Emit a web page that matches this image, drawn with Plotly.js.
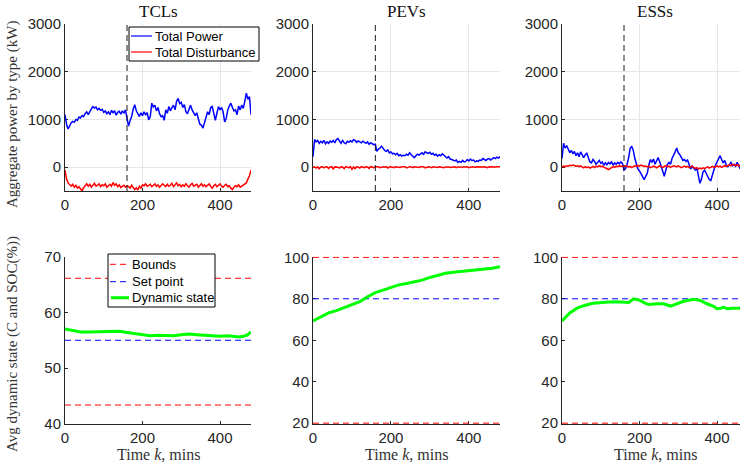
<!DOCTYPE html>
<html>
<head>
<meta charset="utf-8">
<script src="https://cdn.plot.ly/plotly-3.0.1.min.js"></script>
<style>
html,body{margin:0;padding:0;background:#fff;overflow:hidden;width:740px;height:466px;}
#chart{width:770px;height:466px;}
</style>
</head>
<body>
<div id="chart"></div>
<script>
// ---------------- DATA ----------------
const panelTitles = ["TCLs", "PEVs", "ESSs"];
const switchTime = 160;
// time samples for the top row (minutes)
const timeTop = Array.from({length: 121}, (_, i) => i * 4);

const tclPower = [
  1100, 900, 800, 880, 930, 960, 940, 1000, 980, 1050,
  1030, 1080, 1060, 1120, 1160, 1100, 1180, 1220, 1270, 1240,
  1260, 1200, 1230, 1190, 1210, 1150, 1180, 1120, 1160, 1100,
  1190, 1140, 1180, 1090, 1150, 1170, 1110, 1180, 1130, 1200,
  1020, 860, 980, 1060, 1220, 1310, 1180, 1100, 1060, 1140,
  1080, 1160, 1100, 1140, 990, 1060, 1340, 1260, 1300, 1180,
  1250, 1120, 1060, 1080, 980, 1200, 1130, 1270, 1180, 1250,
  1300, 1200, 1380, 1440, 1330, 1360, 1250, 1310, 1160, 1120,
  1200, 1300, 1200, 1140, 1080, 1140, 1010, 900, 880, 820,
  930, 1080, 1160, 1100, 1250, 1270, 1120, 980, 1130, 1270,
  1200, 1250, 1160, 950, 1020, 1200, 1280, 1340, 1250, 1180,
  1200, 1100, 1280, 1200, 1300, 1230, 1380, 1550, 1420, 1480,
  1100];
const tclDist = [
  -60, -250, -330, -370, -400, -360, -420, -380, -440, -410,
  -470, -500, -430, -390, -350, -400, -360, -420, -370, -340,
  -400, -380, -350, -410, -370, -390, -350, -420, -380, -360,
  -400, -320, -380, -350, -410, -370, -430, -400, -380, -420,
  -390, -410, -440, -380, -420, -470, -430, -480, -400, -440,
  -370, -390, -350, -400, -380, -360, -410, -380, -350, -400,
  -370, -420, -390, -350, -380, -410, -360, -400, -380, -340,
  -410, -370, -330, -390, -360, -410, -370, -400, -350, -390,
  -420, -370, -340, -400, -380, -360, -420, -390, -350, -400,
  -370, -410, -380, -350, -400, -440, -390, -360, -410, -380,
  -350, -400, -420, -380, -360, -410, -390, -440, -470, -420,
  -390, -410, -370, -420, -400, -380, -360, -330, -250, -180,
  -60];
const pevPower = [
  220, 580, 530, 560, 500, 540, 510, 560, 490, 530,
  500, 545, 520, 560, 510, 580, 600, 540, 500, 560,
  510, 490, 540, 520, 555, 530, 575, 560, 520, 550,
  530, 510, 545, 520, 500, 530, 480, 510, 490, 470,
  480, 330, 380, 400, 440, 390, 350, 330, 360, 300,
  320, 280, 290, 260, 290, 240, 260, 230, 250, 240,
  270, 250, 300, 260, 220, 200, 240, 270, 250, 280,
  300, 270, 320, 300, 290, 310, 270, 290, 250, 270,
  230, 260, 240, 280, 250, 210, 190, 220, 170, 160,
  150, 130, 150, 100, 120, 100, 140, 110, 120, 160,
  130, 170, 140, 150, 110, 130, 120, 150, 140, 180,
  160, 140, 170, 180, 150, 170, 200, 180, 210, 190,
  220];
const pevDist = [
  0, 5, -20, 8, -35, 5, 10, -15, 5, 8,
  -25, 5, 10, -40, 5, 8, 0, -20, 10, 5,
  -30, 8, 5, -15, 10, -45, 5, -30, 8, 5,
  -20, 10, 5, -10, 8, 5, -25, 10, 5, -15,
  8, 5, 10, -10, 5, 8, 0, 10, -20, 5,
  8, 5, -10, 10, 5, 8, -5, 10, 5, 8,
  -15, 5, 10, 5, -10, 8, 5, 10, -5, 8,
  5, 10, -15, 5, 8, 5, -10, 10, 5, 8,
  -5, 10, 5, 8, -10, 5, 10, 5, -5, 8,
  5, 10, -10, 5, 8, 5, -5, 10, 5, 8,
  -10, 5, 10, 5, -5, 8, 5, 10, -5, 5,
  8, 5, -10, 10, 5, 8, -5, 5, 10, 5,
  8];
const essPower = [
  180, 500, 400, 450, 380, 300, 350, 280, 330, 240,
  300, 220, 320, 250, 200, 260, 290, 200, 110, 90,
  160, 120, 60, 100, 140, 80, 110, 40, 90, 50,
  100, 70, 110, 40, 90, 60, 100, 70, 110, 80,
  -60, -30, 60, 200, 400, 430, 350, 180, 60, -40,
  -80, -130, -200, -260, -180, -130, 40, 160, 100, 170,
  60, 120, 200, 120, 10, -120, -190, -60, 60, 100,
  60, 180, 240, 320, 400, 300, 260, 200, 140, 160,
  120, 150, 60, -40, 20, -30, -60, -20, -150, -340,
  -250, -100, -60, -120, -200, -260, -280, -150, -60, 40,
  100, 180, 240, 160, 90, 140, 40, 10, 60, 100,
  30, 60, 20, 100, 40, -40, 60, 120, 30, 80,
  -20];
const essDist = [
  0, 20, 10, 30, 20, 40, 30, 45, 35, 20,
  30, 10, 25, 0, -15, 10, -10, 5, -20, -5,
  15, -10, 20, 5, 30, 10, 20, 0, -20, -35,
  -50, -30, -10, 10, -5, 20, 10, 30, 15, 25,
  10, 30, 20, 0, 15, -10, 10, 30, 15, 35,
  20, 45, 30, 15, 25, 5, 20, -10, 0, 20,
  10, -15, 5, 25, 10, -5, 15, 30, 10, 20,
  -5, 15, 30, 20, 5, 25, 10, -10, 5, 20,
  0, 15, -10, 5, 20, -5, -25, -10, -40, -20,
  -35, -15, -30, -10, 5, -20, 0, 15, -5, 10,
  25, 5, 20, -5, 10, 30, 15, 35, 50, 30,
  60, 45, 30, 50, 25, 40, 20, 35, 10, 25,
  15];

// bottom row: average dynamic state (%)
const tclStateTime = [0,10,20,40,60,80,100,120,140,160,180,200,220,240,260,280,300,320,340,360,380,400,420,440,450,460,470,480];
const tclState = [57.0,56.9,56.7,56.5,56.5,56.5,56.6,56.5,56.6,56.4,56.2,56.0,55.8,55.9,55.9,55.8,56.0,56.1,56.0,55.9,55.8,55.7,55.8,55.7,55.6,55.7,55.9,56.5];
const pevStateTime = [0,20,40,60,80,100,110,120,140,160,180,200,220,240,260,280,300,320,340,360,380,400,420,440,460,480];
const pevState = [69.3,71.2,73.2,74.3,75.8,77.3,78.0,78.6,81.0,83.0,84.2,85.4,86.7,87.4,88.1,89.0,90.3,91.4,92.3,92.8,93.2,93.4,93.8,94.1,94.7,95.5];
const essStateTime = [0,10,20,40,60,80,100,120,140,160,172,185,200,215,225,245,262,280,297,314,340,357,374,390,400,410,417,426,440,460,480];
const essState = [69.3,71.5,73.2,75.6,76.9,77.8,78.2,78.4,78.6,78.5,78.2,80.0,79.3,77.8,77.3,77.6,77.6,76.5,77.6,78.8,79.8,79.2,77.6,76.5,75.2,75.4,76.0,75.2,75.4,75.3,75.5];

const tclBounds = [43.4, 66.1];
const pevBounds = [20, 100];
const essBounds = [20, 100];
const tclSetPoint = 55;
const pevSetPoint = 80;
const essSetPoint = 80;
const timeSpan = [0, 480];

const powerTicks = [0, 1000, 2000, 3000];
const tclStateTicks = [40, 50, 60, 70];
const socTicks = [20, 40, 60, 80, 100];
const timeTicks = [0, 200, 400];

// ---------------- LAYOUT HELPERS ----------------
const W = 770, H = 466;
const fx = p => p / W;
const fy = p => 1 - p / H;
const colPx = [[65, 251], [313, 500], [562, 748]];
const topPx = [24, 191], botPx = [256.5, 424];

const axisColor = '#262626';
const tickFont = {family: 'Liberation Sans, Arial, sans-serif', size: 15, color: axisColor};
const serif = 'Liberation Serif, Times New Roman, serif';
const dashPat = '6px,4px';

const traces = [];
const layout = {
  width: W, height: H,
  margin: {l: 0, r: 0, t: 0, b: 0},
  paper_bgcolor: '#fff', plot_bgcolor: '#fff',
  showlegend: false,
  shapes: [], annotations: []
};

function axisBase(domain, anchor, grid) {
  return {
    domain: domain, anchor: anchor,
    showline: true, linecolor: axisColor, linewidth: 1,
    ticks: 'inside', ticklen: 3, tickcolor: axisColor, tickwidth: 1,
    tickfont: tickFont, showgrid: grid, gridcolor: '#e6e6e6', gridwidth: 1,
    zeroline: false, mirror: false, fixedrange: true, layer: 'below traces'
  };
}

const topPower = [tclPower, pevPower, essPower];
const topDist = [tclDist, pevDist, essDist];
const stTimes = [tclStateTime, pevStateTime, essStateTime];
const stVals = [tclState, pevState, essState];
const bounds = [tclBounds, pevBounds, essBounds];
const setPoints = [tclSetPoint, pevSetPoint, essSetPoint];
const stateRanges = [[40, 70], [19.6, 100.4], [19.6, 100.4]];
const stateTicks = [tclStateTicks, socTicks, socTicks];

for (let c = 0; c < 3; c++) {
  const ti = c + 1, bi = c + 4;
  const tx = 'x' + (ti === 1 ? '' : ti), ty = 'y' + (ti === 1 ? '' : ti);
  const bx = 'x' + bi, by = 'y' + bi;
  const xd = [fx(colPx[c][0]), fx(colPx[c][1])];

  layout['xaxis' + (ti === 1 ? '' : ti)] = Object.assign(axisBase(xd, ty, true), {range: timeSpan, tickvals: timeTicks});
  layout['yaxis' + (ti === 1 ? '' : ti)] = Object.assign(axisBase([fy(topPx[1]), fy(topPx[0])], tx, true), {range: [-500, 3000], tickvals: powerTicks});
  layout['xaxis' + bi] = Object.assign(axisBase(xd, by, false), {range: timeSpan, tickvals: timeTicks});
  layout['yaxis' + bi] = Object.assign(axisBase([fy(botPx[1]), fy(botPx[0])], bx, false), {range: stateRanges[c], tickvals: stateTicks[c]});

  // top row: power traces
  traces.push({x: timeTop, y: topPower[c], xaxis: tx, yaxis: ty, type: 'scatter', mode: 'lines',
    name: 'Total Power', line: {color: '#0000ff', width: 1.5}, hoverinfo: 'skip'});
  traces.push({x: timeTop, y: topDist[c], xaxis: tx, yaxis: ty, type: 'scatter', mode: 'lines',
    name: 'Total Disturbance', line: {color: '#ff0000', width: 1.5}, hoverinfo: 'skip'});

  // bottom row: bounds, set point, dynamic state
  const b = bounds[c];
  traces.push({x: [timeSpan[0], timeSpan[1], null, timeSpan[0], timeSpan[1]], y: [b[0], b[0], null, b[1], b[1]],
    xaxis: bx, yaxis: by, type: 'scatter', mode: 'lines', name: 'Bounds',
    line: {color: '#ff0000', width: 1, dash: dashPat}, hoverinfo: 'skip'});
  traces.push({x: timeSpan, y: [setPoints[c], setPoints[c]], xaxis: bx, yaxis: by, type: 'scatter', mode: 'lines',
    name: 'Set point', line: {color: '#0000ff', width: 1, dash: dashPat}, hoverinfo: 'skip'});
  traces.push({x: stTimes[c], y: stVals[c], xaxis: bx, yaxis: by, type: 'scatter', mode: 'lines',
    name: 'Dynamic state', line: {color: '#00ff00', width: 3}, hoverinfo: 'skip'});

  // switch-time marker
  layout.shapes.push({type: 'line', xref: tx, yref: ty + ' domain', x0: switchTime, x1: switchTime, y0: 0, y1: 1,
    line: {color: '#1a1a1a', width: 1, dash: dashPat}, layer: 'above'});

  const cx = fx((colPx[c][0] + colPx[c][1]) / 2);
  layout.annotations.push({text: panelTitles[c], xref: 'paper', yref: 'paper', x: cx, y: fy(12),
    xanchor: 'center', yanchor: 'middle', showarrow: false, font: {family: serif, size: 17, color: '#111'}});
  layout.annotations.push({text: 'Time <i>k</i>, mins', xref: 'paper', yref: 'paper', x: cx, y: fy(454),
    xanchor: 'center', yanchor: 'middle', showarrow: false, font: {family: serif, size: 16, color: '#333'}});
}

// y-axis titles
layout.annotations.push({text: 'Aggregate power by type (kW)', xref: 'paper', yref: 'paper', x: fx(12), y: fy(115),
  textangle: -90, xanchor: 'center', yanchor: 'middle', showarrow: false, font: {family: serif, size: 15, color: '#333'}});
layout.annotations.push({text: 'Avg dynamic state (C and SOC(%))', xref: 'paper', yref: 'paper', x: fx(12), y: fy(344),
  textangle: -90, xanchor: 'center', yanchor: 'middle', showarrow: false, font: {family: serif, size: 15, color: '#333'}});

// legends (drawn as boxes over the first column)
const legFont = {family: 'Liberation Sans, Arial, sans-serif', size: 13, color: '#000'};
function legendBox(x0, y0, x1, y1) {
  layout.shapes.push({type: 'rect', xref: 'paper', yref: 'paper', x0: fx(x0), x1: fx(x1), y0: fy(y1), y1: fy(y0),
    fillcolor: '#fff', line: {color: '#000', width: 1}, layer: 'above'});
}
function legendItem(x0, x1, y, color, width, dash, label) {
  layout.shapes.push({type: 'line', xref: 'paper', yref: 'paper', x0: fx(x0), x1: fx(x1), y0: fy(y), y1: fy(y),
    line: {color: color, width: width, dash: dash}, layer: 'above'});
  layout.annotations.push({text: label, xref: 'paper', yref: 'paper', x: fx(x1 + 1), y: fy(y),
    xanchor: 'left', yanchor: 'middle', showarrow: false, font: legFont});
}
legendBox(129, 27, 259, 61);
legendItem(131, 152, 36, '#0000ff', 1.2, 'solid', 'Total Power');
legendItem(131, 152, 52, '#ff0000', 1.2, 'solid', 'Total Disturbance');

legendBox(108, 254, 215, 307);
legendItem(110, 129, 264.3, '#ff0000', 1, dashPat, 'Bounds');
legendItem(110, 129, 281.7, '#0000ff', 1, dashPat, 'Set point');
legendItem(111, 129, 297.7, '#00ff00', 3, 'solid', 'Dynamic state');

Plotly.newPlot('chart', traces, layout, {staticPlot: true, displayModeBar: false});
</script>
</body>
</html>
